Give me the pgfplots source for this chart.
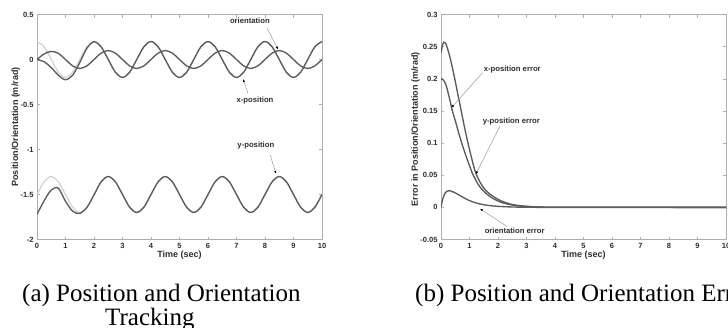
\documentclass[border=0pt]{standalone}
\usepackage{fontspec}
\setmainfont{Liberation Serif}
\newfontfamily\axfont{Liberation Sans}
\usepackage{pgfplots}
\pgfplotsset{compat=1.18}
\usepackage{pgfplotstable}
\usetikzlibrary{arrows.meta}
\definecolor{curve}{RGB}{92,92,92}
\definecolor{refc}{RGB}{208,208,208}
\definecolor{axc}{RGB}{175,175,175}
\definecolor{txt}{RGB}{45,45,45}
\definecolor{ann}{RGB}{155,155,155}

\pgfplotstableread{
t xr xa or oa yr ya
0 0.2 0 0 0 -1.5 -1.72
0.25 0.1414 -0.025 0.0707 0.062 -1.3586 -1.57
0.5 0 -0.09 0.1 0.09 -1.3 -1.45
0.75 -0.1414 -0.175 0.0707 0.068 -1.3586 -1.43
1 -0.2 -0.225 0 0 -1.5 -1.575
1.25 -0.1414 -0.175 -0.0707 -0.0707 -1.6414 -1.685
1.5 0 -0.035 -0.1 -0.1 -1.7 -1.71
1.75 0.1414 0.125 -0.0707 -0.0707 -1.6414 -1.645
2 0.2 0.198 0 0 -1.5 -1.505
2.25 0.1414 0.1414 0.0707 0.0707 -1.3586 -1.3586
2.5 0 0 0.1 0.1 -1.3 -1.3
2.75 -0.1414 -0.1414 0.0707 0.0707 -1.3586 -1.3586
3 -0.2 -0.2 0 0 -1.5 -1.5
3.25 -0.1414 -0.1414 -0.0707 -0.0707 -1.6414 -1.6414
3.5 0 0 -0.1 -0.1 -1.7 -1.7
3.75 0.1414 0.1414 -0.0707 -0.0707 -1.6414 -1.6414
4 0.2 0.2 0 0 -1.5 -1.5
4.25 0.1414 0.1414 0.0707 0.0707 -1.3586 -1.3586
4.5 0 0 0.1 0.1 -1.3 -1.3
4.75 -0.1414 -0.1414 0.0707 0.0707 -1.3586 -1.3586
5 -0.2 -0.2 0 0 -1.5 -1.5
5.25 -0.1414 -0.1414 -0.0707 -0.0707 -1.6414 -1.6414
5.5 0 0 -0.1 -0.1 -1.7 -1.7
5.75 0.1414 0.1414 -0.0707 -0.0707 -1.6414 -1.6414
6 0.2 0.2 0 0 -1.5 -1.5
6.25 0.1414 0.1414 0.0707 0.0707 -1.3586 -1.3586
6.5 0 0 0.1 0.1 -1.3 -1.3
6.75 -0.1414 -0.1414 0.0707 0.0707 -1.3586 -1.3586
7 -0.2 -0.2 0 0 -1.5 -1.5
7.25 -0.1414 -0.1414 -0.0707 -0.0707 -1.6414 -1.6414
7.5 0 0 -0.1 -0.1 -1.7 -1.7
7.75 0.1414 0.1414 -0.0707 -0.0707 -1.6414 -1.6414
8 0.2 0.2 0 0 -1.5 -1.5
8.25 0.1414 0.1414 0.0707 0.0707 -1.3586 -1.3586
8.5 0 0 0.1 0.1 -1.3 -1.3
8.75 -0.1414 -0.1414 0.0707 0.0707 -1.3586 -1.3586
9 -0.2 -0.2 0 0 -1.5 -1.5
9.25 -0.1414 -0.1414 -0.0707 -0.0707 -1.6414 -1.6414
9.5 0 0 -0.1 -0.1 -1.7 -1.7
9.75 0.1414 0.1414 -0.0707 -0.0707 -1.6414 -1.6414
10 0.2 0.2 0 0 -1.5 -1.5
}\lefttab

\pgfplotstableread{
t ex ey eo
0 0.200 0.240 0
0.05 0.1995 0.252 0.011
0.1 0.197 0.257 0.018
0.15 0.193 0.256 0.0225
0.2 0.187 0.251 0.025
0.3 0.169 0.236 0.026
0.4 0.150 0.217 0.0245
0.5 0.135 0.196 0.0225
0.6 0.119 0.174 0.020
0.7 0.104 0.152 0.0175
0.8 0.090 0.130 0.015
0.9 0.077 0.109 0.0125
1.0 0.065 0.090 0.0105
1.1 0.053 0.072 0.0088
1.2 0.044 0.056 0.0073
1.3 0.036 0.045 0.006
1.4 0.030 0.037 0.005
1.5 0.025 0.030 0.0041
1.6 0.021 0.025 0.0034
1.8 0.0145 0.018 0.0023
2.0 0.0098 0.0125 0.0016
2.2 0.0066 0.0085 0.0011
2.5 0.0036 0.0045 0.0006
2.8 0.002 0.0025 0.0003
3.2 0.0009 0.001 0.0001
3.6 0.0004 0.0005 0
4 0.0002 0.0002 0
10 0 0 0
}\righttab

\pgfplotsset{mystyle/.style={
  scale only axis, width=285pt, height=225pt, anchor=south west,
  axis line style={axc, line width=0.5pt},
  tick style={axc, line width=0.5pt},
  major tick length=3pt, tick align=inside,
  xtick pos=both, ytick pos=both,
  xmin=0, xmax=10, xtick={0,1,...,10},
  tick label style={font=\axfont\bfseries\fontsize{7.5}{8}\selectfont, text=txt},
  label style={font=\axfont\bfseries\fontsize{9}{10}\selectfont, text=txt},
  /pgf/number format/assume math mode=true,
  xlabel={Time (sec)},
  xlabel style={at={(axis description cs:0.5,-0.068)}, anchor=center},
}}
\tikzset{annf/.style={font=\axfont\bfseries\fontsize{7.7}{8}\selectfont, text=txt, inner sep=0pt},
  annl/.style={ann, line width=0.5pt, -{Latex[length=3pt,width=2.4pt,color=black]}}}

\begin{document}
\begin{tikzpicture}
\useasboundingbox (0,0) rectangle (728pt,327pt);
\clip (0,0) rectangle (728pt,327pt);

\begin{axis}[mystyle, at={(37pt,87.5pt)},
  ymin=-2, ymax=0.5, ytick={-2,-1.5,-1,-0.5,0,0.5},
  yticklabels={-2,-1.5,-1,-0.5,0,0.5},
  ylabel={Position/Orientation (m/rad)},
  ylabel style={at={(axis description cs:-0.074,0.5)}, anchor=center}]
\addplot[refc, line width=1.2pt, smooth] table[x=t,y=xr]{\lefttab};
\addplot[refc, line width=1.2pt, smooth] table[x=t,y=yr]{\lefttab};
\addplot[curve, line width=1.35pt, smooth] table[x=t,y=xa]{\lefttab};
\addplot[curve, line width=1.35pt, smooth] table[x=t,y=oa]{\lefttab};
\addplot[curve, line width=1.35pt, smooth] table[x=t,y=ya]{\lefttab};
\node[annf] at (axis cs:7.47,0.428) {orientation};
\draw[annl] (axis cs:8.07,0.35) -- (axis cs:8.46,0.111);
\node[annf] at (axis cs:7.65,-0.461) {x-position};
\draw[annl] (axis cs:7.40,-0.372) -- (axis cs:7.23,-0.217);
\node[annf] at (axis cs:7.68,-0.961) {y-position};
\draw[annl] (axis cs:8.18,-1.061) -- (axis cs:8.39,-1.27);
\end{axis}

\begin{axis}[mystyle, at={(441pt,87.5pt)},
  ymin=-0.05, ymax=0.3, ytick={-0.05,0,0.05,0.1,0.15,0.2,0.25,0.3},
  yticklabels={-0.05,0,0.05,0.1,0.15,0.2,0.25,0.3},
  ylabel={Error in Position/Orientation (m/rad)},
  ylabel style={at={(axis description cs:-0.089,0.49)}, anchor=center}]
\addplot[curve, line width=1.35pt, smooth] table[x=t,y=eo]{\righttab};
\addplot[curve, line width=1.35pt, smooth] table[x=t,y=ex]{\righttab};
\addplot[curve, line width=1.35pt, smooth] table[x=t,y=ey]{\righttab};
\node[annf] at (axis cs:2.50,0.2137) {x-position error};
\draw[annl] (axis cs:1.463,0.2095) -- (axis cs:0.361,0.155);
\node[annf] at (axis cs:2.467,0.1343) {y-position error};
\draw[annl] (axis cs:2.07,0.1266) -- (axis cs:1.218,0.0514);
\node[annf] at (axis cs:2.586,-0.0368) {orientation error};
\draw[annl] (axis cs:2.326,-0.0301) -- (axis cs:1.368,-0.0021);
\end{axis}

\node[anchor=base west, inner sep=0pt, font=\fontsize{25}{25}\selectfont] at (22pt,25.5pt) {(a) Position and Orientation};
\node[anchor=base west, inner sep=0pt, font=\fontsize{25}{25}\selectfont] at (105pt,2pt) {Tracking};
\node[anchor=base west, inner sep=0pt, font=\fontsize{25}{25}\selectfont] at (415pt,25.5pt) {(b) Position and Orientation Error};
\end{tikzpicture}
\end{document}
